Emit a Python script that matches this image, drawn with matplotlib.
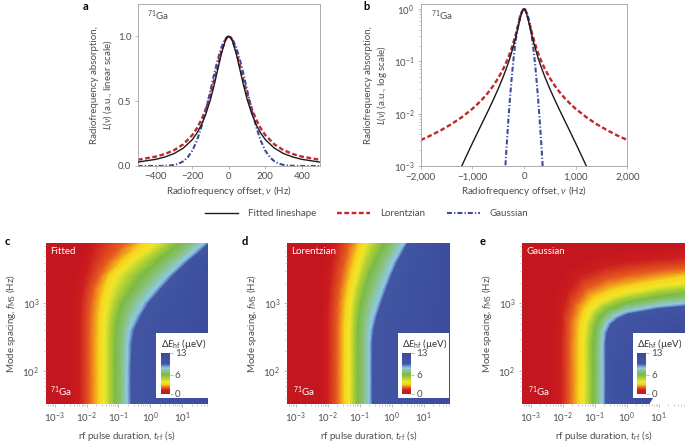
import numpy as np
from matplotlib import pyplot as plt
from matplotlib.colors import LinearSegmentedColormap, Normalize
from matplotlib.cm import ScalarMappable
from matplotlib.patches import Rectangle
import matplotlib.ticker as plticker


def plot_params():
    plt.rcParams['font.family'] = ['Lato', 'DejaVu Sans']
    plt.rcParams['font.size'] = 7
    plt.rcParams['mathtext.fontset'] = 'custom'
    plt.rcParams['mathtext.rm'] = 'Lato'
    plt.rcParams['mathtext.it'] = 'Lato:italic'
    plt.rcParams['mathtext.bf'] = 'Lato:bold'
    plt.rcParams['mathtext.fallback'] = 'stixsans'
    plt.rcParams['axes.linewidth'] = 0.6
    plt.rcParams['axes.edgecolor'] = '#a0a0a0'
    plt.rcParams['axes.labelcolor'] = '#4d4d4d'
    for ax in ('xtick', 'ytick'):
        plt.rcParams[f'{ax}.color'] = '#a0a0a0'
        plt.rcParams[f'{ax}.labelcolor'] = '#4d4d4d'
        plt.rcParams[f'{ax}.direction'] = 'out'
        plt.rcParams[f'{ax}.major.size'] = 2.5
        plt.rcParams[f'{ax}.minor.size'] = 1.5
        plt.rcParams[f'{ax}.major.width'] = 0.5
        plt.rcParams[f'{ax}.minor.width'] = 0.4
        plt.rcParams[f'{ax}.major.pad'] = 2
        plt.rcParams[f'{ax}.labelsize'] = 7
plot_params()

v_fit = [0, 10, 20, 40, 60, 80, 100, 125, 150, 175, 200, 250, 300, 350, 400,
         500, 600, 700, 800, 900, 1000, 1100, 1200, 1300]
L_fit = [1.0, 0.991, 0.964, 0.871, 0.750, 0.627, 0.517, 0.405, 0.319, 0.254,
         0.204, 0.1375, 0.0962, 0.0697, 0.0516, 0.0298, 0.0180, 0.0111,
         0.00696, 0.00436, 0.00272, 0.00168, 0.00103, 0.00062]

v_lor = [0, 10, 20, 40, 60, 80, 100, 125, 150, 175, 200, 250, 300, 350, 400,
         500, 600, 700, 800, 900, 1000, 1200, 1400, 1600, 1800, 2000]
L_lor = [1.0, 0.992, 0.969, 0.887, 0.777, 0.662, 0.556, 0.445, 0.358, 0.291,
         0.239, 0.167, 0.122, 0.0929, 0.0727, 0.0478, 0.0337, 0.0250, 0.0192,
         0.0153, 0.01239, 0.00864, 0.00636, 0.00488, 0.00386, 0.00313]

v_gau = [0, 10, 20, 40, 60, 80, 100, 125, 150, 175, 200, 225, 250, 275, 300,
         325, 350, 375, 400, 450, 500]
L_gau = [1.0, 0.995, 0.979, 0.918, 0.826, 0.712, 0.588, 0.436, 0.302, 0.196,
         0.119, 0.0679, 0.0361, 0.0180, 0.00837, 0.00365, 0.00149, 0.000568,
         0.000203, 2.1e-5, 1.7e-6]

# ---- hyperfine maps: log10(t_rf) where dE_hf reaches each level ----
levels = [0, 1.2, 2.0, 3.0, 3.8, 4.8, 6.0, 7.2, 8.2, 9.5]
f_rows = [1.2, 1.7, 2.0, 2.4, 2.6, 2.8, 3.0, 3.2, 3.4, 3.6, 3.8, 3.95]  # log10 f_MS

t_fitted = [
    [-2.55, -2.20, -1.90, -1.62, -1.45, -1.28, -1.10, -0.90, -0.72, -0.60],
    [-2.55, -2.20, -1.90, -1.62, -1.45, -1.28, -1.10, -0.90, -0.72, -0.60],
    [-2.55, -2.20, -1.90, -1.62, -1.45, -1.28, -1.10, -0.90, -0.72, -0.60],
    [-2.55, -2.20, -1.90, -1.62, -1.45, -1.28, -1.10, -0.89, -0.70, -0.57],
    [-2.55, -2.20, -1.90, -1.61, -1.44, -1.27, -1.08, -0.86, -0.65, -0.50],
    [-2.54, -2.20, -1.89, -1.59, -1.42, -1.23, -1.02, -0.76, -0.45, -0.30],
    [-2.52, -2.18, -1.85, -1.54, -1.36, -1.14, -0.90, -0.58, -0.21, -0.05],
    [-2.48, -2.12, -1.78, -1.45, -1.25, -0.95, -0.60, -0.24, 0.15, 0.32],
    [-2.40, -2.02, -1.60, -1.30, -1.06, -0.70, -0.30, 0.12, 0.53, 0.70],
    [-2.28, -1.90, -1.35, -0.92, -0.62, -0.25, 0.17, 0.58, 0.98, 1.15],
    [-2.12, -1.78, -0.98, -0.45, -0.07, 0.28, 0.68, 1.10, 1.48, 1.65],
    [-1.98, -1.65, -0.62, -0.10, 0.32, 0.65, 1.07, 1.45, 1.85, 2.00],
]

t_lorentz = [
    [-2.25, -2.00, -1.70, -1.48, -1.33, -1.20, -1.07, -0.88, -0.70, -0.60],
    [-2.25, -2.00, -1.70, -1.48, -1.33, -1.20, -1.07, -0.88, -0.70, -0.60],
    [-2.25, -2.00, -1.70, -1.48, -1.33, -1.20, -1.07, -0.88, -0.70, -0.60],
    [-2.25, -2.00, -1.70, -1.48, -1.33, -1.20, -1.07, -0.88, -0.70, -0.60],
    [-2.25, -2.00, -1.70, -1.48, -1.33, -1.20, -1.06, -0.87, -0.67, -0.56],
    [-2.25, -2.00, -1.69, -1.46, -1.31, -1.18, -1.03, -0.83, -0.58, -0.46],
    [-2.23, -1.98, -1.67, -1.43, -1.28, -1.14, -0.96, -0.74, -0.44, -0.32],
    [-2.21, -1.95, -1.62, -1.37, -1.21, -1.06, -0.86, -0.61, -0.29, -0.17],
    [-2.18, -1.90, -1.55, -1.28, -1.11, -0.94, -0.72, -0.45, -0.13, -0.01],
    [-2.13, -1.84, -1.46, -1.18, -1.00, -0.81, -0.55, -0.26, 0.05, 0.17],
    [-2.08, -1.76, -1.36, -1.06, -0.88, -0.65, -0.34, -0.03, 0.28, 0.40],
    [-2.03, -1.70, -1.27, -0.96, -0.76, -0.50, -0.18, 0.13, 0.46, 0.58],
]

# gaussian: contours turn horizontal, so (log10 t, log10 f) points along each level
gauss_curves = [
    [(-2.40, 1.2), (-2.40, 2.4), (-2.38, 2.90), (-2.20, 3.30), (-1.80, 3.55), (-1.00, 3.72), (0.00, 3.80), (1.0, 3.84), (2.2, 3.87)],
    [(-2.05, 1.2), (-2.05, 2.4), (-2.02, 2.85), (-1.85, 3.15), (-1.45, 3.40), (-0.70, 3.54), (0.00, 3.60), (1.0, 3.65), (2.2, 3.70)],
    [(-1.78, 1.2), (-1.78, 2.4), (-1.75, 2.75), (-1.60, 2.98), (-1.25, 3.20), (-0.60, 3.34), (0.00, 3.40), (1.0, 3.47), (2.2, 3.53)],
    [(-1.50, 1.2), (-1.50, 2.4), (-1.47, 2.70), (-1.32, 2.92), (-1.05, 3.07), (-0.50, 3.19), (0.00, 3.25), (1.0, 3.34), (2.2, 3.43)],
    [(-1.35, 1.2), (-1.35, 2.4), (-1.31, 2.68), (-1.15, 2.88), (-0.88, 3.01), (-0.40, 3.11), (0.00, 3.16), (1.0, 3.25), (2.2, 3.33)],
    [(-1.20, 1.2), (-1.20, 2.4), (-1.15, 2.66), (-1.00, 2.85), (-0.75, 2.96), (-0.30, 3.05), (0.00, 3.09), (1.0, 3.18), (2.2, 3.25)],
    [(-1.05, 1.2), (-1.05, 2.4), (-1.00, 2.63), (-0.86, 2.80), (-0.60, 2.91), (-0.20, 2.98), (0.00, 3.01), (1.0, 3.10), (2.2, 3.18)],
    [(-0.90, 1.2), (-0.90, 2.4), (-0.85, 2.60), (-0.72, 2.75), (-0.48, 2.86), (-0.15, 2.92), (0.00, 2.95), (1.0, 3.03), (2.2, 3.10)],
    [(-0.75, 1.2), (-0.75, 2.4), (-0.72, 2.58), (-0.58, 2.72), (-0.35, 2.81), (-0.10, 2.86), (0.00, 2.88), (1.0, 2.96), (2.2, 3.02)],
    [(-0.65, 1.2), (-0.65, 2.4), (-0.62, 2.55), (-0.50, 2.68), (-0.28, 2.77), (-0.05, 2.82), (0.05, 2.84), (1.0, 2.92), (2.2, 2.97)],
]

# colour scale of the dE_hf bar (value, colour)
cmap_nodes = [(0, '#c4161e'), (1.2, '#cd1f1f'), (2.0, '#e8621f'), (3.0, '#f7d21c'),
              (3.8, '#f2e82a'), (4.8, '#b5d334'), (6.0, '#7bbb43'), (7.2, '#8ac27c'),
              (8.2, '#8fcbe8'), (9.5, '#4256a4'), (13, '#3a4a9c')]
vmax = 13
cmap = LinearSegmentedColormap.from_list('dEhf', [(v / vmax, c) for v, c in cmap_nodes])
norm = Normalize(0, vmax)

c_red = '#c1272d'
c_blue = '#3f4b9e'
c_black = '#1a1a1a'


def mirror(v, y):
    v = np.asarray(v, float)
    y = np.asarray(y, float)
    return np.concatenate([-v[:0:-1], v]), np.concatenate([y[:0:-1], y])


def thousands(x, pos):
    s = f'{abs(x):,.0f}'
    return '\u2212' + s if x < 0 else s


fig = plt.figure(figsize=(6.85, 4.43), dpi=100)

ax_a = fig.add_axes([0.201, 0.6253, 0.2661, 0.3657])
ax_b = fig.add_axes([0.6142, 0.6253, 0.3016, 0.3657])

lines = []
for ax in (ax_a, ax_b):
    x, y = mirror(v_fit, L_fit)
    l1, = ax.plot(x, y, color=c_black, lw=1.0, zorder=3)
    x, y = mirror(v_lor, L_lor)
    l2, = ax.plot(x, y, color=c_red, lw=1.7, dashes=(2.0, 1.1), zorder=2)
    x, y = mirror(v_gau, L_gau)
    l3, = ax.plot(x, y, color=c_blue, lw=1.5, dashes=(2.4, 1.0, 0.6, 1.0), zorder=2)
    lines = [l1, l2, l3]
    ax.set_xlabel(r'Radiofrequency offset, $\nu$ (Hz)', labelpad=2)
    ax.text(0.05, 0.928, r'$^{71}$Ga', transform=ax.transAxes, ha='left',
            va='center', color='#4d4d4d')

ax_a.set_xlim(-500, 500)
ax_a.set_ylim(0, 1.25)
ax_a.set_xticks(np.arange(-400, 401, 200))
ax_a.set_yticks([0, 0.5, 1.0])
ax_a.set_yticklabels(['0.0', '0.5', '1.0'])
ax_a.set_ylabel('Radiofrequency absorption,\n' + r'$L(\nu)$ (a.u., linear scale)',
                labelpad=3)

ax_b.set_yscale('log')
ax_b.set_xlim(-2000, 2000)
ax_b.set_ylim(1e-3, 1.25)
ax_b.set_xticks(np.arange(-2000, 2001, 1000))
ax_b.xaxis.set_major_formatter(plticker.FuncFormatter(thousands))
ax_b.set_ylabel('Radiofrequency absorption,\n' + r'$L(\nu)$ (a.u., log scale)',
                labelpad=3)

fig.legend(lines, ['Fitted lineshape', 'Lorentzian', 'Gaussian'], loc='center',
           bbox_to_anchor=(0.535, 0.517), ncol=3, frameon=False, fontsize=7,
           handlelength=3.4, handletextpad=1.0, columnspacing=2.2,
           labelcolor='#4d4d4d')


def row_mesh(table):
    t = np.array(table)
    n = t.shape[0]
    lt = np.column_stack([np.full(n, -3.5), t, np.full(n, 2.3)])
    lf = np.repeat(np.array(f_rows)[:, None], lt.shape[1], axis=1)
    return lt, lf


def curve_mesh(curves):
    arr = np.array(curves)
    lt = arr[:, :, 0].T
    lf = arr[:, :, 1].T
    edge_t = [-3.5, -3.5, -3.5, -3.5, -3.5, -1.0, 0.0, 1.0, 2.3]
    edge_f = [1.2, 2.4, 3.0, 3.6, 4.1, 4.1, 4.1, 4.1, 4.1]
    corner_t = [0.3, 0.8, 1.2, 1.5, 1.8, 2.0, 2.1, 2.2, 2.3]
    corner_f = [1.2, 1.6, 1.8, 2.0, 2.2, 2.4, 2.5, 2.6, 2.7]
    lt = np.column_stack([edge_t, lt, corner_t])
    lf = np.column_stack([edge_f, lf, corner_f])
    return lt, lf


zlev = np.array([0] + levels + [vmax], float)
fig_h = 443
pad_px = 12   # heatmap drawn a little below the frame, then masked in white
xlim_log = (-3.28, 1.82)
ylim_log = (1.51, 3.895)

maps = [
    ([0.0667, 0.0874, 0.2374, 0.3648], row_mesh(t_fitted), 'Fitted', 'c', 0.0073, 0.025),
    ([0.4185, 0.0874, 0.2384, 0.3648], row_mesh(t_lorentz), 'Lorentzian', 'd', 0.353, 0.04),
    ([0.7616, 0.0874, 0.2384, 0.3648], curve_mesh(gauss_curves), 'Gaussian', 'e', 0.7007, 0.04),
]

for rect, (lt, lf), name, letter, lx, gx in maps:
    x0, y0, w, h = rect
    pad = pad_px / fig_h
    dec_per_px = (ylim_log[1] - ylim_log[0]) / (h * fig_h)

    # colour map itself
    hm = fig.add_axes([x0, y0 - pad, w, h + pad])
    z = np.tile(zlev, (lt.shape[0], 1))
    hm.pcolormesh(10.0 ** lt, 10.0 ** lf, z, cmap=cmap, norm=norm, shading='gouraud')
    hm.set_xscale('log')
    hm.set_yscale('log')
    hm.set_xlim(10 ** xlim_log[0], 10 ** xlim_log[1])
    hm.set_ylim(10 ** (ylim_log[0] - pad_px * dec_per_px), 10 ** ylim_log[1])
    hm.set_axis_off()

    fig.add_artist(Rectangle((x0 - 0.002, y0 - pad - 0.004), w + 0.004, pad + 0.004,
                             transform=fig.transFigure, facecolor='white',
                             edgecolor='none', zorder=1))

    # frame with ticks and labels
    ax = fig.add_axes(rect, zorder=2)
    ax.set_facecolor('none')
    ax.set_xscale('log')
    ax.set_yscale('log')
    ax.set_xlim(10 ** xlim_log[0], 10 ** xlim_log[1])
    ax.set_ylim(10 ** ylim_log[0], 10 ** ylim_log[1])
    ax.xaxis.set_major_locator(plticker.LogLocator(base=10, numticks=10))
    ax.xaxis.set_minor_locator(plticker.LogLocator(base=10, subs=np.arange(2, 10), numticks=20))
    ax.xaxis.set_minor_formatter(plticker.NullFormatter())
    ax.yaxis.set_minor_formatter(plticker.NullFormatter())
    for s in ax.spines.values():
        s.set_visible(False)
    ax.set_xlabel(r'rf pulse duration, $t_{\rm rf}$ (s)', labelpad=3)
    ax.set_ylabel(r'Mode spacing, $f_{\rm MS}$ (Hz)', labelpad=3)
    ax.text(0.03, 0.944, name, transform=ax.transAxes, color='white',
            ha='left', va='center', fontsize=7)
    ax.text(gx, 0.076, r'$^{71}$Ga', transform=ax.transAxes, color='white',
            ha='left', va='center', fontsize=7)
    fig.text(lx, 0.454, letter, fontweight='bold', fontsize=8, ha='left', va='center')

    # white box holding the colour bar
    box = fig.add_axes([x0 + 0.681 * w, y0 + 0.039 * h, 0.316 * w, 0.40 * h], zorder=3)
    box.set_facecolor('white')
    box.set_xticks([])
    box.set_yticks([])
    for s in box.spines.values():
        s.set_visible(False)
    box.text(0.53, 0.84, r'$\Delta E_{\rm hf}$ (µeV)', transform=box.transAxes,
             ha='center', va='center', fontsize=7, color='#333333')
    cax = fig.add_axes([x0 + 0.709 * w, y0 + 0.064 * h, 0.055 * w, 0.255 * h], zorder=4)
    cb = fig.colorbar(ScalarMappable(norm=norm, cmap=cmap), cax=cax, ticks=[0, 6, 13])
    cb.outline.set_linewidth(0)
    cax.tick_params(length=2, width=0.5, pad=1.5, labelsize=7)

fig.text(0.12, 0.986, 'a', fontweight='bold', fontsize=8, ha='left', va='center')
fig.text(0.53, 0.986, 'b', fontweight='bold', fontsize=8, ha='left', va='center')

plt.savefig('out.png', dpi=100)
